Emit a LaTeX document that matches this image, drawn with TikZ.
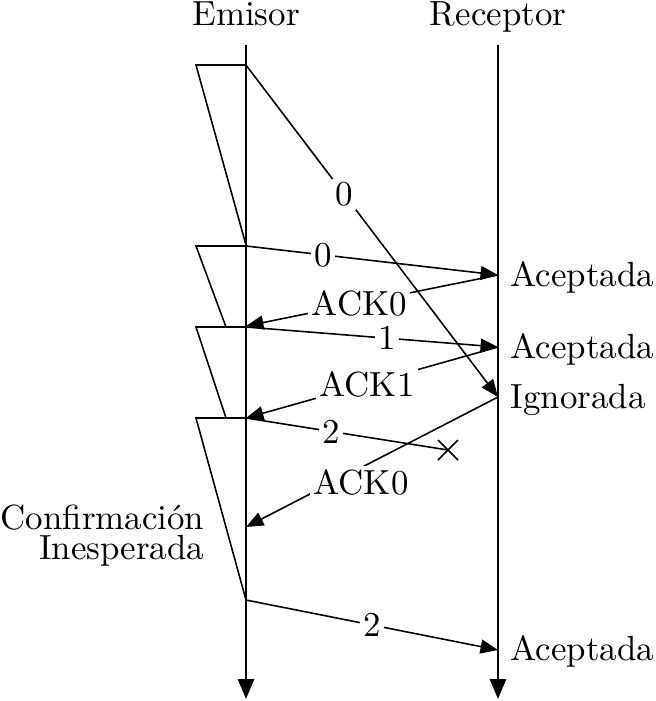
\documentclass[tikz,border=0pt]{standalone}
\usetikzlibrary{arrows.meta,calc}
\begin{document}
\begin{tikzpicture}[x=0.2865pt,y=-0.2865pt,
  lifeline/.style={line width=0.7pt,-{Triangle[length=5.7pt,width=4.6pt]}},
  msg/.style={line width=0.45pt,-{Triangle[length=5pt,width=4pt]}},
  lostmsg/.style={line width=0.45pt},
  timer/.style={line width=0.45pt},
  lbl/.style={fill=white,inner sep=1pt},
  side/.style={inner sep=0pt}]
\useasboundingbox (0,0) rectangle (655,701);
% lifelines
\coordinate (Etop) at (246,45);
\coordinate (Ebot) at (246,699);
\coordinate (Rtop) at (498,45);
\coordinate (Rbot) at (498,699);
\node[side,anchor=base] (emisor) at (246,25) {Emisor};
\node[side,anchor=base] (receptor) at (498,25) {Receptor};
\draw[lifeline] (Etop) -- (Ebot);
\draw[lifeline] (Rtop) -- (Rbot);
% events on the sender
\coordinate (s1) at (246,65);
\coordinate (s2) at (246,246);
\coordinate (s3) at (246,327);
\coordinate (s4) at (246,418);
\coordinate (s5) at (246,600);
\coordinate (a0) at (246,326);
\coordinate (a1) at (246,418);
\coordinate (a2) at (246,527);
% events on the receiver
\coordinate (r1) at (498,275);
\coordinate (r2) at (498,347);
\coordinate (r3) at (498,397);
\coordinate (r4) at (498,650);
\coordinate (lost) at (448,450);
% timers
\coordinate (t1a) at (196,65);  \coordinate (t1b) at (246,245);
\coordinate (t2a) at (196,246); \coordinate (t2b) at (226,327);
\coordinate (t3a) at (196,327); \coordinate (t3b) at (226,418);
\coordinate (t4a) at (196,418); \coordinate (t4b) at (246,600);
\draw[timer] (s1) -- (t1a) -- (t1b);
\draw[timer] (s2) -- (t2a) -- (t2b);
\draw[timer] (s3) -- (t3a) -- (t3b);
\draw[timer] (s4) -- (t4a) -- (t4b);
% messages
\draw[msg] (s1) -- node[lbl,pos=0.39] (m1) {0} (r3);
\draw[msg] (s2) -- node[lbl,pos=0.305] (m2) {0} (r1);
\draw[msg] (r1) -- node[lbl,pos=0.55] (k1) {ACK0} (a0);
\draw[msg] (s3) -- node[lbl,pos=0.56] (m3) {1} (r2);
\draw[msg] (r2) -- node[lbl,pos=0.52] (k2) {ACK1} (a1);
\draw[lostmsg] (s4) -- node[lbl,pos=0.42] (m4) {2} (lost);
\draw[lostmsg] ($(lost)+(-10,-10)$) -- ($(lost)+(10,10)$);
\draw[lostmsg] ($(lost)+(-10,10)$) -- ($(lost)+(10,-10)$);
\draw[msg] (r3) -- (a2);
\node[lbl] (k3) at (361,482) {ACK0};
\draw[msg] (s5) -- node[lbl,pos=0.5] (m5) {2} (r4);
% receiver labels
\node[side,anchor=base west] (acc1) at (510,286) {Aceptada};
\node[side,anchor=base west] (acc2) at (510,358) {Aceptada};
\node[side,anchor=base west] (ign) at (510,408) {Ignorada};
\node[side,anchor=base west] (acc3) at (510,660) {Aceptada};
% sender note
\node[side,anchor=base east] (conf) at (205,529) {Confirmación};
\node[side,anchor=base east] (ines) at (205,559) {Inesperada};
\end{tikzpicture}
\end{document}
